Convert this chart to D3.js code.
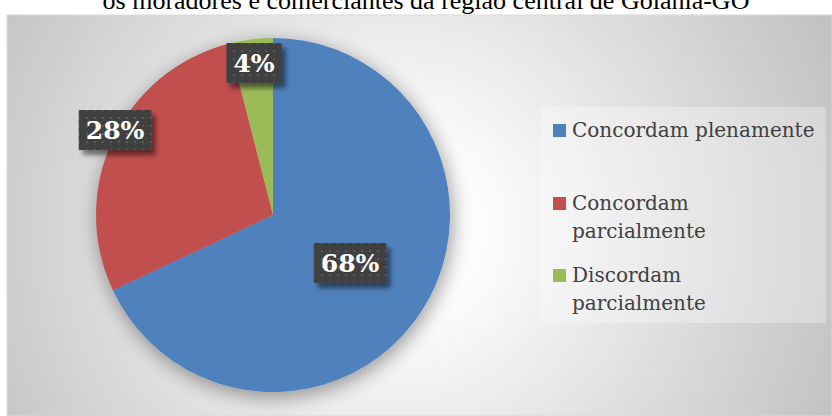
<!DOCTYPE html>
<html>
<head>
<meta charset="utf-8">
<script src="https://cdn.jsdelivr.net/npm/d3@7"></script>
<style>
  html, body { margin: 0; padding: 0; background: #fff; }
  svg { display: block; }
</style>
</head>
<body>
<div id="chart"></div>
<script>
// Data
const categories = ["Concordam plenamente", "Concordam parcialmente", "Discordam parcialmente"];
const values = [68, 28, 4];
const colors = ["#4f81bd", "#c0504d", "#9bbb59"];
const legendLines = [["Concordam plenamente"], ["Concordam", "parcialmente"], ["Discordam", "parcialmente"]];
const title = "os moradores e comerciantes da região central de Goiânia-GO";

const W = 832, H = 416;
const svg = d3.select("#chart").append("svg")
    .attr("width", W)
    .attr("height", H);

const defs = svg.append("defs");

// background gradient of the chart area
const bg = defs.append("radialGradient")
    .attr("id", "bg")
    .attr("gradientUnits", "userSpaceOnUse")
    .attr("cx", 400).attr("cy", 230).attr("r", 470);
bg.append("stop").attr("offset", "0%").attr("stop-color", "#ffffff");
bg.append("stop").attr("offset", "20%").attr("stop-color", "#fbfbfb");
bg.append("stop").attr("offset", "100%").attr("stop-color", "#c2c2c2");

// soft shadow round the pie
const pieShadow = defs.append("filter").attr("id", "pieShadow")
    .attr("x", "-30%").attr("y", "-30%").attr("width", "160%").attr("height", "160%");
pieShadow.append("feGaussianBlur").attr("in", "SourceAlpha").attr("stdDeviation", 10).attr("result", "b");
pieShadow.append("feOffset").attr("in", "b").attr("dx", 2).attr("dy", 5).attr("result", "o");
pieShadow.append("feComponentTransfer").attr("in", "o").attr("result", "s")
    .append("feFuncA").attr("type", "linear").attr("slope", 0.4);
const pm = pieShadow.append("feMerge");
pm.append("feMergeNode").attr("in", "s");
pm.append("feMergeNode").attr("in", "SourceGraphic");

// shadow of the label boxes
const boxShadow = defs.append("filter").attr("id", "boxShadow")
    .attr("x", "-30%").attr("y", "-30%").attr("width", "170%").attr("height", "190%");
boxShadow.append("feGaussianBlur").attr("in", "SourceAlpha").attr("stdDeviation", 2.5).attr("result", "b");
boxShadow.append("feOffset").attr("in", "b").attr("dx", 4).attr("dy", 5).attr("result", "o");
boxShadow.append("feComponentTransfer").attr("in", "o").attr("result", "s")
    .append("feFuncA").attr("type", "linear").attr("slope", 0.5);
const bm = boxShadow.append("feMerge");
bm.append("feMergeNode").attr("in", "s");
bm.append("feMergeNode").attr("in", "SourceGraphic");

// dotted fill of the label boxes
const dots = defs.append("pattern")
    .attr("id", "dots")
    .attr("patternUnits", "userSpaceOnUse")
    .attr("width", 8).attr("height", 8);
dots.append("rect").attr("width", 8).attr("height", 8).attr("fill", "#404040");
dots.append("rect").attr("x", 3).attr("y", 3).attr("width", 2).attr("height", 2).attr("fill", "#5a5a5a");

// title, cut off at the top as in the source
svg.append("text")
    .attr("x", W / 2 + 10)
    .attr("y", 9)
    .attr("text-anchor", "middle")
    .style("font-family", "'Liberation Serif', 'Times New Roman', serif")
    .style("font-size", "26px")
    .style("fill", "#000")
    .text(title);

// chart area
svg.append("rect")
    .attr("x", 7).attr("y", 15)
    .attr("width", W - 7).attr("height", H - 15)
    .attr("fill", "url(#bg)")
    .attr("stroke", "#d9d9d9")
    .attr("stroke-width", 1);

// pie
const cx = 273, cy = 215, R = 177;
const pie = d3.pie().sort(null).value(d => d)(values);
const arc = d3.arc().innerRadius(0).outerRadius(R);

const g = svg.append("g").attr("transform", `translate(${cx},${cy})`);
g.append("g").attr("filter", "url(#pieShadow)")
    .selectAll("path")
    .data(pie)
    .join("path")
    .attr("d", arc)
    .attr("fill", (d, i) => colors[i]);

// data labels (positions relative to pie centre)
const labelPos = [
    {x: 77, y: 48},
    {x: -158, y: -85},
    {x: -19, y: -152}
];
const labelFont = "'DejaVu Serif', serif";

const lab = g.selectAll("g.lab")
    .data(pie)
    .join("g")
    .attr("class", "lab")
    .attr("transform", (d, i) => `translate(${labelPos[i].x},${labelPos[i].y})`);

lab.each(function (d) {
    const sel = d3.select(this);
    const t = sel.append("text")
        .attr("text-anchor", "middle")
        .attr("dy", "0.37em")
        .style("font-family", labelFont)
        .style("font-weight", "bold")
        .style("font-size", "25px")
        .style("fill", "#fff")
        .text(d3.format(".0%")(d.data / 100));
    const bb = t.node().getBBox();
    sel.insert("rect", "text")
        .attr("x", bb.x - 7)
        .attr("y", -20)
        .attr("width", bb.width + 14)
        .attr("height", 40)
        .attr("fill", "url(#dots)")
        .attr("filter", "url(#boxShadow)");
});

// legend
const legend = svg.append("g");
legend.append("rect")
    .attr("x", 541).attr("y", 107)
    .attr("width", 285).attr("height", 216)
    .attr("fill", "#ffffff").attr("fill-opacity", 0.3);

const legendY = [137, 210, 282];
const item = legend.selectAll("g.item")
    .data(categories)
    .join("g")
    .attr("class", "item")
    .attr("transform", (d, i) => `translate(553,${legendY[i]})`);

item.append("rect")
    .attr("x", 0).attr("y", -13)
    .attr("width", 13).attr("height", 13)
    .attr("fill", (d, i) => colors[i]);

item.append("text")
    .attr("x", 19)
    .style("font-family", labelFont)
    .style("font-size", "20px")
    .style("fill", "#404040")
    .selectAll("tspan")
    .data((d, i) => legendLines[i])
    .join("tspan")
    .attr("x", 19)
    .attr("dy", (d, j) => j === 0 ? 0 : 28)
    .text(d => d);
</script>
</body>
</html>
